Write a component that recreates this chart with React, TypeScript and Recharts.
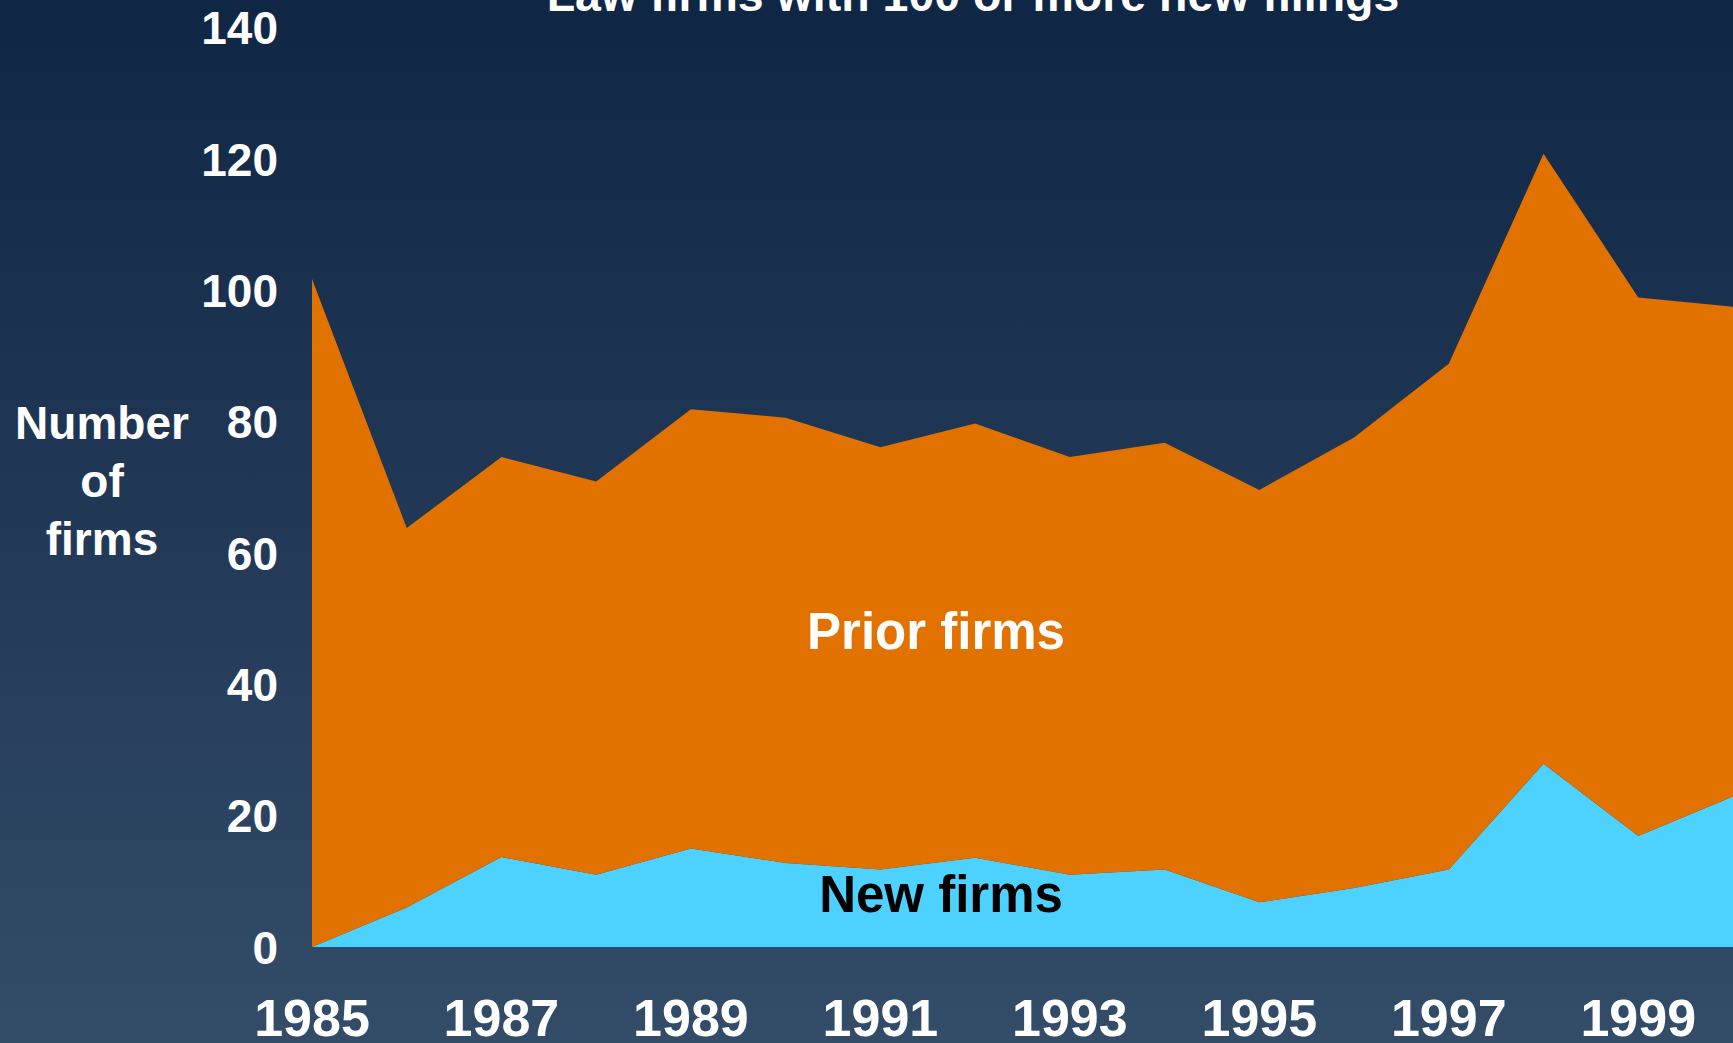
import React from 'react';
import { AreaChart, Area, XAxis, YAxis } from 'recharts';

const years = [1985, 1986, 1987, 1988, 1989, 1990, 1991, 1992, 1993, 1994, 1995, 1996, 1997, 1998, 1999, 2000];
const totalFirms = [101.7, 63.8, 74.6, 70.9, 81.9, 80.6, 76.1, 79.7, 74.6, 76.8, 69.6, 77.6, 88.8, 120.8, 98.9, 97.5];
const newFirms = [0, 6, 13.7, 11, 15, 12.8, 11.8, 13.6, 11, 11.8, 6.8, 9, 11.8, 27.9, 16.9, 22.9];
const yearTicks = [1985, 1987, 1989, 1991, 1993, 1995, 1997, 1999];
const countTicks = [0, 20, 40, 60, 80, 100, 120, 140];

const FONT = '"Liberation Sans", Arial, Helvetica, sans-serif';
const W = 1733;
const H = 1043;

const chartData = years.map((year, i) => ({
  year,
  newFirms: newFirms[i],
  priorFirms: totalFirms[i] - newFirms[i],
}));

const YTick = ({ x, y, payload }: any) => (
  <text x={x} y={y} dy="0.36em" textAnchor="end" fill="#fff" fontFamily={FONT} fontWeight={700} fontSize={46}>
    {payload.value}
  </text>
);

const XTick = ({ x, payload }: any) => (
  <text x={x} y={1036} textAnchor="middle" fill="#fff" fontFamily={FONT} fontWeight={700} fontSize={52}>
    {payload.value}
  </text>
);

export default function App() {
  return (
    <div
      style={{
        position: 'absolute',
        left: 0,
        top: 0,
        width: W,
        height: H,
        background: 'linear-gradient(to bottom, #0f2645 0%, #334c68 100%)',
        overflow: 'hidden',
      }}
    >
      <AreaChart width={W} height={H} data={chartData} margin={{ top: 27.6, right: 0, bottom: 0, left: 0 }}>
        <XAxis
          dataKey="year"
          type="number"
          domain={[1985, 2000]}
          ticks={yearTicks}
          axisLine={false}
          tickLine={false}
          height={96}
          tick={<XTick />}
        />
        <YAxis
          type="number"
          domain={[0, 140]}
          ticks={countTicks}
          axisLine={false}
          tickLine={false}
          tickSize={0}
          tickMargin={34}
          width={312}
          tick={<YTick />}
        />
        <Area
          type="linear"
          dataKey="newFirms"
          stackId="1"
          stroke="none"
          fill="#4dd2ff"
          fillOpacity={1}
          isAnimationActive={false}
        />
        <Area
          type="linear"
          dataKey="priorFirms"
          stackId="1"
          stroke="none"
          fill="#e27200"
          fillOpacity={1}
          isAnimationActive={false}
        />
      </AreaChart>
      <svg
        width={W}
        height={H}
        style={{ position: 'absolute', left: 0, top: 0, pointerEvents: 'none' }}
        fontFamily={FONT}
        fontWeight={700}
      >
        <text x={973} y={11} textAnchor="middle" fill="#fff" fontSize={46.5}>
          Law firms with 100 or more new filings
        </text>
        <text textAnchor="middle" fill="#fff" fontSize={46}>
          <tspan x={102} y={439}>Number</tspan>
          <tspan x={102} y={497}>of</tspan>
          <tspan x={102} y={555}>firms</tspan>
        </text>
        <text x={936} y={649} textAnchor="middle" fill="#fff" fontSize={51}>
          Prior firms
        </text>
        <text x={941} y={912} textAnchor="middle" fill="#000" fontSize={51}>
          New firms
        </text>
      </svg>
    </div>
  );
}
